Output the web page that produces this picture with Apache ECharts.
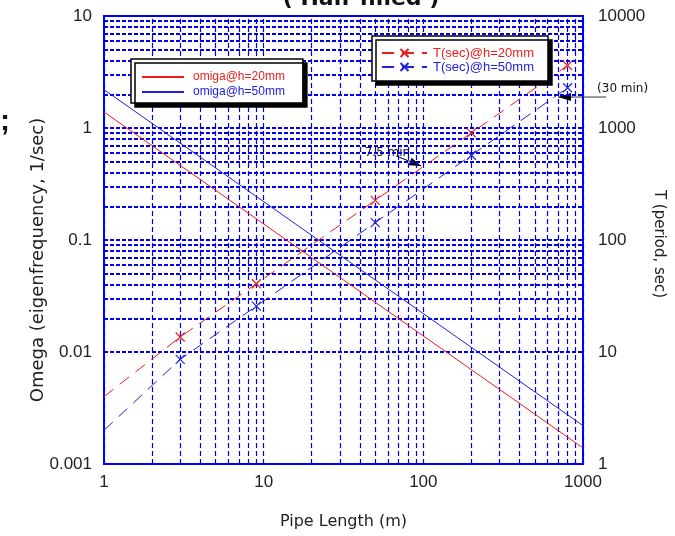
<!DOCTYPE html>
<html>
<head>
<meta charset="utf-8">
<script src="https://cdn.jsdelivr.net/npm/echarts@6/dist/echarts.min.js"></script>
<style>
  html, body { margin: 0; padding: 0; background: #fff; }
  #chart { width: 675px; height: 536px; }
</style>
</head>
<body>
<div id="chart"></div>
<script>
// period curves T (sec) vs pipe length (m)
const lengthT = [1, 3, 9, 50, 200, 800];
const period20 = [4.0, 13.6, 40.7, 226, 904, 3614];
const period50 = [2.0, 8.6, 25.7, 143, 571, 2286];
// eigenfrequency curves (straight lines on log-log)
const lengthOmega = [1, 1000];
const omega20 = [1.39, 0.00139];
const omega50 = [2.2, 0.0022];
// tick labels
const xTicks = ['1', '10', '100', '1000'];
const leftTicks = ['0.001', '0.01', '0.1', '1', '10'];
const rightTicks = ['1', '10', '100', '1000', '10000'];
// annotations: [pipe length, period] of the arrow tips
const note75 = [97, 458];
const note30 = [698, 1890];

const RED = '#ee1c1c';
const BLUE = '#2020e0';
const GRID = '#0000ee';
const SANS = 'Liberation Sans, Arial, sans-serif';
const DV = 'DejaVu Sans, sans-serif';

const chart = echarts.init(document.getElementById('chart'));

// log grid lines at 1..9 x each decade
const steps = [1, 2, 3, 4, 5, 6, 7, 8, 9];
function gridValues(lo, hi) {
    const out = [];
    for (let e = lo; e < hi; e++) {
        steps.forEach(m => out.push(+(m * Math.pow(10, e)).toPrecision(3)));
    }
    out.push(Math.pow(10, hi));
    return out;
}
const gridLines = [];
gridValues(0, 3).forEach(v => gridLines.push({ xAxis: v, lineStyle: { width: 1.2, type: [5, 3] } }));
gridValues(-3, 1).forEach(v => gridLines.push({ yAxis: v, lineStyle: { width: 2, type: [4, 2] } }));

const cross = 'path://M0,0L10,10M10,0L0,10';
const pairs = (xs, ys) => xs.map((x, i) => [x, ys[i]]);
const periodData = ys => lengthT.map((x, i) => i === 0 ? { value: [x, ys[i]], symbol: 'none' } : [x, ys[i]]);
const lg = v => Math.round(Math.log10(v));

chart.setOption({
    animation: false,
    backgroundColor: '#fff',
    grid: { left: 104, right: 92, top: 16, bottom: 72, show: true, borderColor: '#0000ff', borderWidth: 2, backgroundColor: '#fff' },
    xAxis: {
        type: 'log', logBase: 10, min: 1, max: 1000,
        name: 'Pipe Length (m)', nameLocation: 'middle', nameGap: 50,
        nameTextStyle: { fontFamily: DV, fontSize: 16, color: '#222' },
        axisLine: { show: false }, axisTick: { show: false }, splitLine: { show: false },
        axisLabel: { margin: 10, fontFamily: SANS, fontSize: 17, color: '#222', formatter: v => xTicks[lg(v)] }
    },
    yAxis: [
        {
            type: 'log', logBase: 10, min: 0.001, max: 10,
            axisLine: { show: false }, axisTick: { show: false }, splitLine: { show: false },
            axisLabel: { margin: 12, fontFamily: SANS, fontSize: 17, color: '#222', formatter: v => leftTicks[lg(v) + 3] }
        },
        {
            type: 'log', logBase: 10, min: 1, max: 10000, position: 'right',
            axisLine: { show: false }, axisTick: { show: false }, splitLine: { show: false },
            axisLabel: { margin: 15, fontFamily: SANS, fontSize: 17, color: '#222', formatter: v => rightTicks[lg(v)] }
        }
    ],
    legend: [
        {
            data: [
                { name: 'omiga@h=20mm', textStyle: { color: RED } },
                { name: 'omiga@h=50mm', textStyle: { color: BLUE } }
            ],
            left: 131, top: 59, orient: 'vertical', selectedMode: false,
            itemWidth: 42, itemHeight: 10, itemGap: 1,
            itemStyle: { opacity: 0 },
            padding: [11, 18, 4, 10],
            backgroundColor: '#fff', borderColor: '#000', borderWidth: 1.5,
            shadowColor: '#000', shadowBlur: 0, shadowOffsetX: 4, shadowOffsetY: 4,
            textStyle: { fontFamily: SANS, fontSize: 12, lineHeight: 14, padding: [0, 0, 0, 4] }
        },
        {
            data: [
                { name: 'T(sec)@h=20mm', textStyle: { color: RED } },
                { name: 'T(sec)@h=50mm', textStyle: { color: BLUE } }
            ],
            left: 372, top: 36, orient: 'vertical', selectedMode: false,
            itemWidth: 45, itemHeight: 10, itemGap: 0,
            padding: [10, 14, 7, 9],
            backgroundColor: '#fff', borderColor: '#000', borderWidth: 1.5,
            shadowColor: '#000', shadowBlur: 0, shadowOffsetX: 4, shadowOffsetY: 4,
            textStyle: { fontFamily: SANS, fontSize: 13, lineHeight: 14, padding: [0, 0, 0, 1] }
        }
    ],
    series: [
        {
            name: 'grid', type: 'line', data: [], z: 1,
            markLine: {
                silent: true, symbol: ['none', 'none'], z: 1, animation: false,
                label: { show: false },
                lineStyle: { color: GRID, width: 1, type: [4, 2] },
                data: gridLines
            }
        },
        {
            name: 'omiga@h=20mm', type: 'line', symbol: 'none', z: 3,
            lineStyle: { color: RED, width: 1 }, itemStyle: { color: RED },
            data: pairs(lengthOmega, omega20)
        },
        {
            name: 'omiga@h=50mm', type: 'line', symbol: 'none', z: 3,
            lineStyle: { color: BLUE, width: 1 }, itemStyle: { color: BLUE },
            data: pairs(lengthOmega, omega50)
        },
        {
            name: 'T(sec)@h=20mm', type: 'line', yAxisIndex: 1, z: 3,
            symbol: cross, symbolSize: 9, showAllSymbol: true,
            lineStyle: { color: RED, width: 1, type: [12, 8] },
            itemStyle: { color: RED, borderColor: RED, borderWidth: 1.2 },
            data: periodData(period20)
        },
        {
            name: 'T(sec)@h=50mm', type: 'line', yAxisIndex: 1, z: 3,
            symbol: cross, symbolSize: 9, showAllSymbol: true,
            lineStyle: { color: BLUE, width: 1, type: [12, 8] },
            itemStyle: { color: BLUE, borderColor: BLUE, borderWidth: 1.2 },
            data: periodData(period50)
        }
    ]
});

// arrow head pointing at tip, coming from 'from'
function arrowHead(tip, from, len, half) {
    const dx = from[0] - tip[0], dy = from[1] - tip[1];
    const d = Math.hypot(dx, dy);
    const ux = dx / d, uy = dy / d;
    const bx = tip[0] + ux * len, by = tip[1] + uy * len;
    return [tip, [bx - uy * half, by + ux * half], [bx + uy * half, by - ux * half]];
}

const t75 = chart.convertToPixel({ seriesIndex: 3 }, note75);
const t30 = chart.convertToPixel({ seriesIndex: 3 }, note30);
const s75 = [t75[0] - 25, t75[1] - 10];
const s30 = [t30[0] + 48, t30[1]];

chart.setOption({
    graphic: [
        { type: 'text', x: 361, y: 10, style: { text: '( Half-filled )', font: 'bold 22px ' + DV, fill: '#111', align: 'center', verticalAlign: 'bottom', textAlign: 'center', textVerticalAlign: 'bottom' } },
        { type: 'text', x: 0, y: 122, style: { text: ';', font: 'bold 30px ' + SANS, fill: '#111', align: 'left', verticalAlign: 'middle', textAlign: 'left', textVerticalAlign: 'middle' } },
        { type: 'text', x: 38, y: 260, rotation: Math.PI / 2, style: { text: 'Omega (eigenfrequency, 1/sec)', font: '18px ' + DV, fill: '#222', align: 'center', verticalAlign: 'middle', textAlign: 'center', textVerticalAlign: 'middle' } },
        { type: 'text', x: 659, y: 244, rotation: -Math.PI / 2, style: { text: 'T (period, sec)', font: '15px ' + DV, fill: '#222', align: 'center', verticalAlign: 'middle', textAlign: 'center', textVerticalAlign: 'middle' } },
        { type: 'line', shape: { x1: s75[0], y1: s75[1], x2: t75[0], y2: t75[1] }, style: { stroke: '#000', lineWidth: 1 } },
        { type: 'polygon', shape: { points: arrowHead(t75, s75, 12, 4) }, style: { fill: '#000' } },
        { type: 'text', x: s75[0] + 14, y: s75[1] - 3, style: { text: '7.5 min', font: '12px ' + DV, fill: '#111', align: 'right', verticalAlign: 'middle', textAlign: 'right', textVerticalAlign: 'middle' } },
        { type: 'line', shape: { x1: s30[0], y1: s30[1], x2: t30[0], y2: t30[1] }, style: { stroke: '#333', lineWidth: 1 } },
        { type: 'polygon', shape: { points: arrowHead(t30, s30, 13, 4) }, style: { fill: '#000' } },
        { type: 'text', x: s30[0] - 9, y: t30[1] - 8, style: { text: '(30 min)', font: '12px ' + DV, fill: '#111', align: 'left', verticalAlign: 'middle', textAlign: 'left', textVerticalAlign: 'middle' } }
    ]
});
</script>
</body>
</html>
